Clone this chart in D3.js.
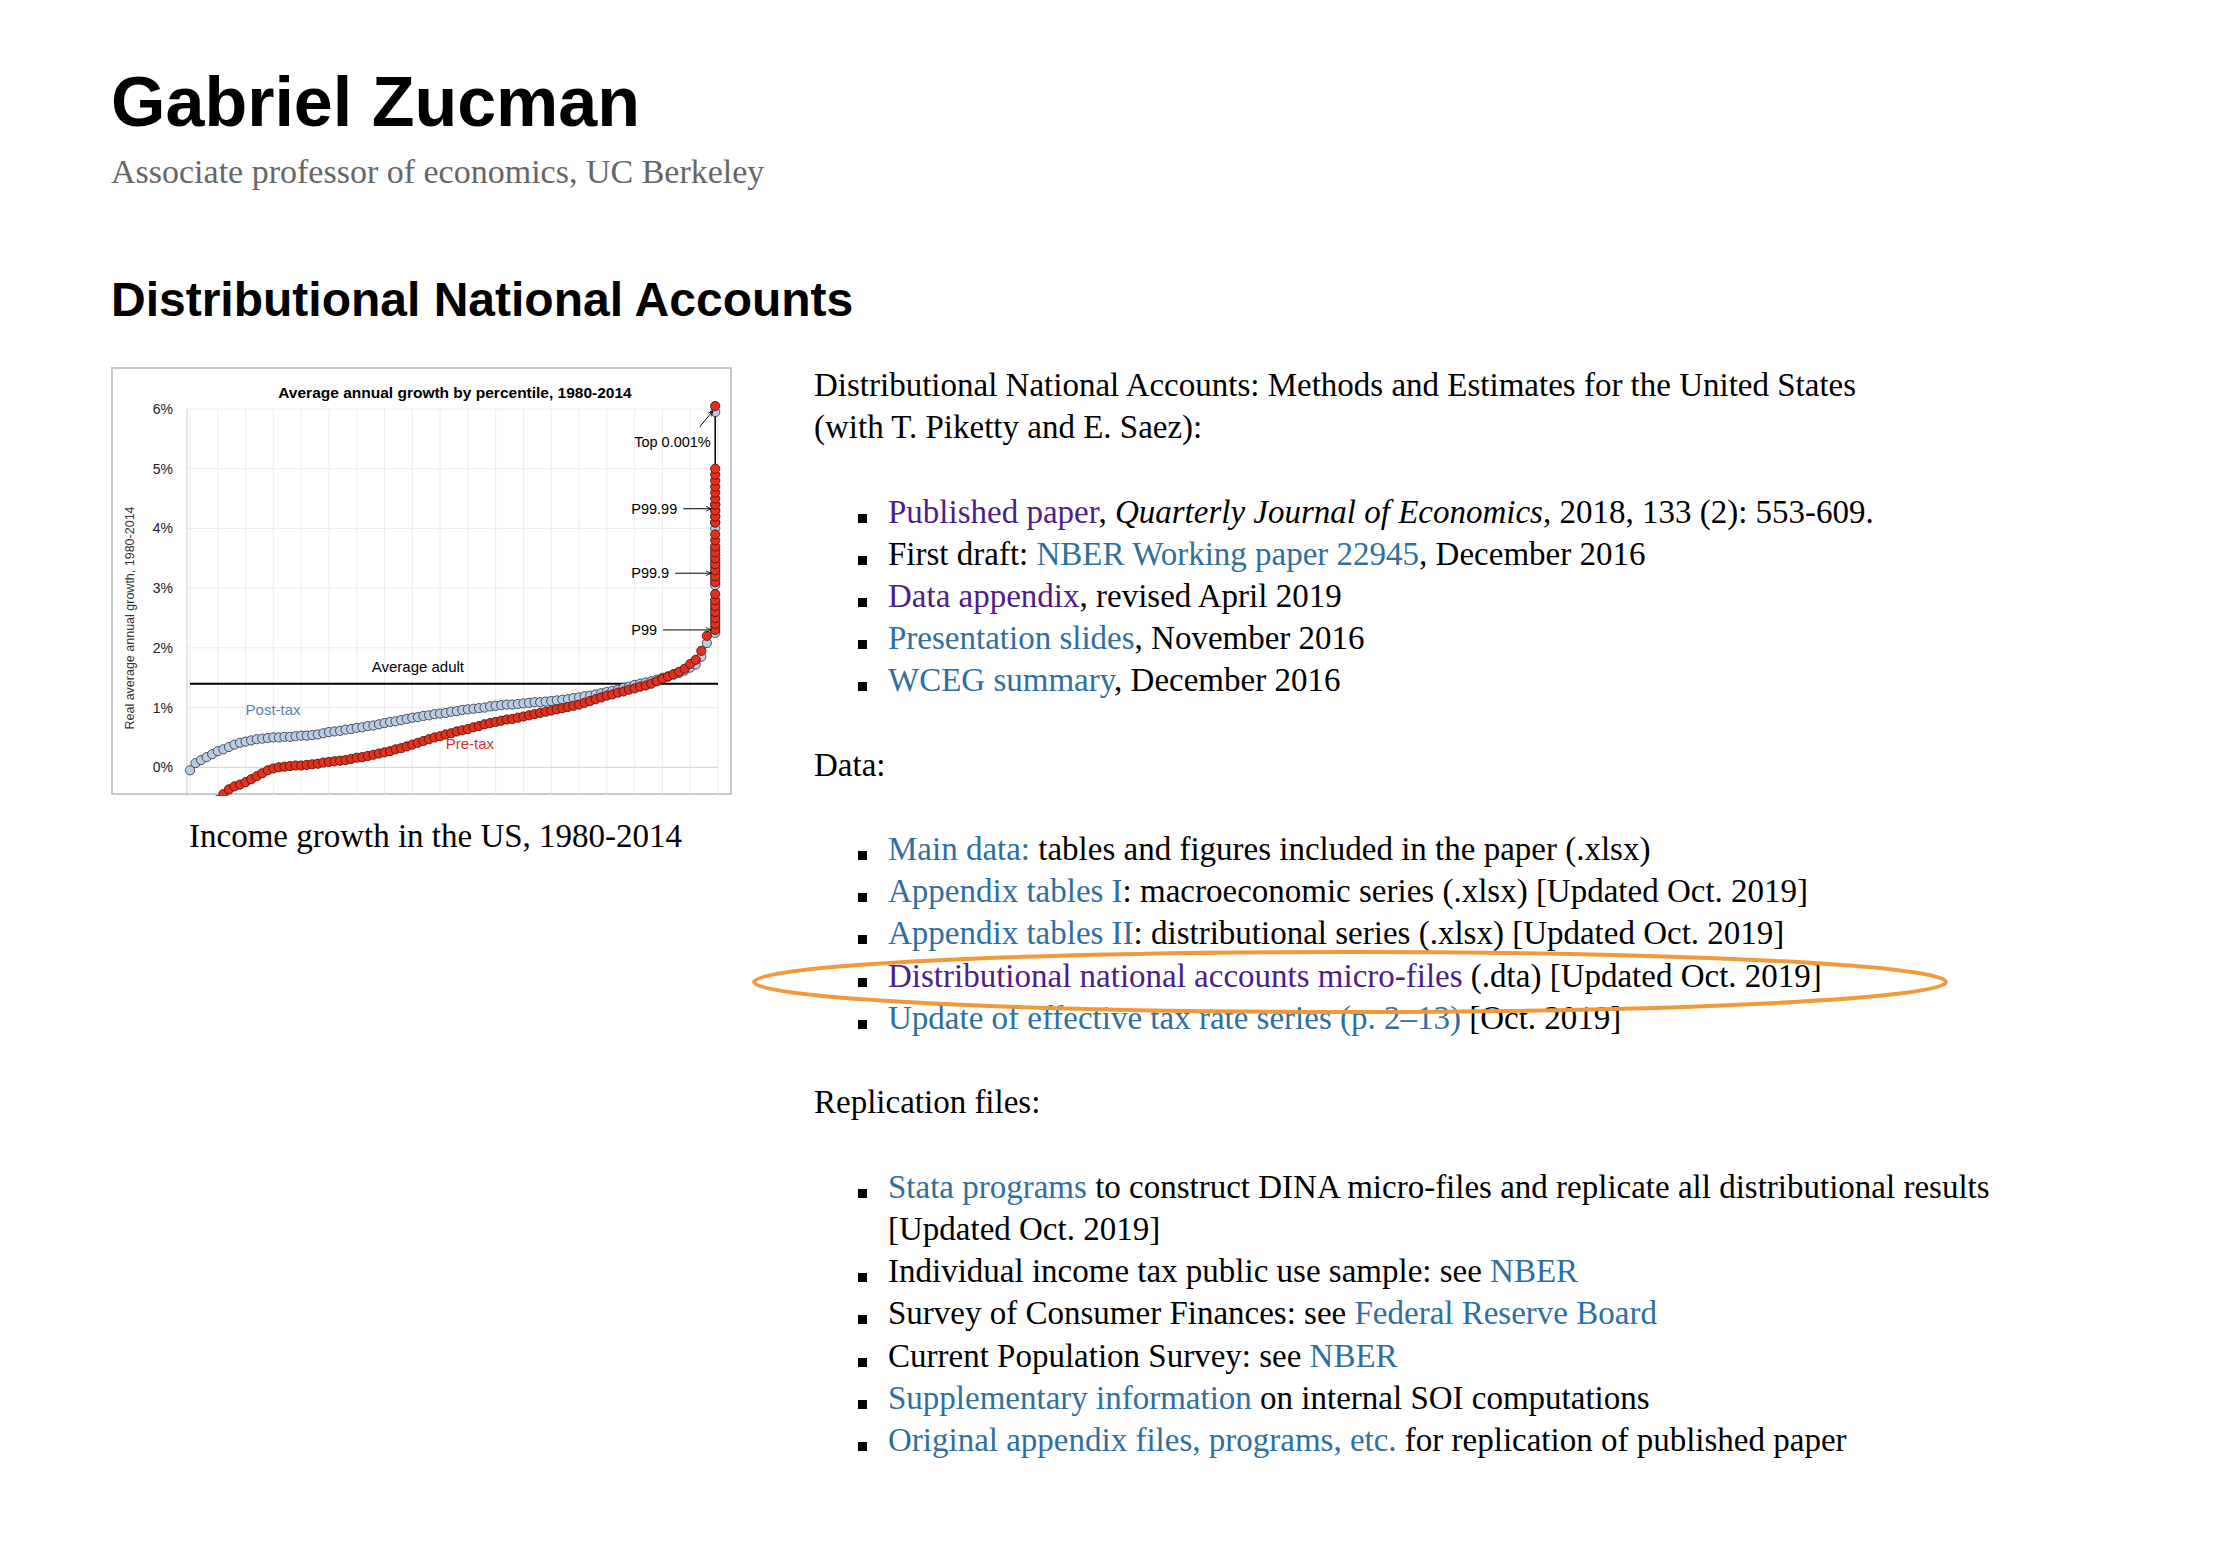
<!DOCTYPE html>
<html><head><meta charset="utf-8">
<script src="https://cdnjs.cloudflare.com/ajax/libs/d3/7.8.5/d3.min.js"></script>
<style>
body{margin:0;background:#fff;width:2230px;height:1548px;position:relative;overflow:hidden;font-family:Georgia,"Liberation Serif",serif;}
.abs{position:absolute;white-space:nowrap;}
h1{position:absolute;left:111px;top:62px;margin:0;font:bold 70px "Liberation Sans",Arial,sans-serif;}
h2{position:absolute;left:111px;top:272px;margin:0;font:bold 48px "Liberation Sans",Arial,sans-serif;}
.sub{left:111px;top:153px;font-size:34px;color:#666;}
.line{font-size:33px;color:#000;}
a.b{color:#2f6f9f;text-decoration:none;}
a.p{color:#4f1c8c;text-decoration:none;}
.bul{position:absolute;width:9px;height:9px;background:#000;}
</style></head>
<body>
<h1>Gabriel Zucman</h1>
<div class="abs sub">Associate professor of economics, UC Berkeley</div>
<h2>Distributional National Accounts</h2>
<div class="abs line" style="left:189px;top:818px;">Income growth in the US, 1980-2014</div>
<svg id="chart" class="abs" style="left:111px;top:367px" width="622" height="429"></svg>
<div id="text"></div>
<svg class="abs" style="left:0;top:0;pointer-events:none" width="2230" height="1548">
<ellipse cx="1350" cy="982" rx="596" ry="30" fill="none" stroke="#f29a3a" stroke-width="4"/>
</svg>
<script>
// percentile axis
var pcts = [5,6,7,8,9,10,11,12,13,14,15,16,17,18,19,20,21,22,23,24,25,26,27,28,29,30,31,32,33,34,35,36,37,38,39,40,41,42,43,44,45,46,47,48,49,50,51,52,53,54,55,56,57,58,59,60,61,62,63,64,65,66,67,68,69,70,71,72,73,74,75,76,77,78,79,80,81,82,83,84,85,86,87,88,89,90,91,92,93,94,95,96,97,98];
var postTax = [-0.05,0.07,0.12,0.17,0.22,0.27,0.30,0.34,0.38,0.41,0.43,0.45,0.47,0.48,0.49,0.50,0.50,0.51,0.51,0.52,0.53,0.53,0.54,0.55,0.57,0.59,0.60,0.61,0.63,0.64,0.66,0.67,0.69,0.70,0.72,0.74,0.76,0.77,0.79,0.81,0.83,0.84,0.86,0.87,0.89,0.90,0.91,0.93,0.94,0.96,0.97,0.98,0.99,1.00,1.02,1.03,1.04,1.05,1.05,1.06,1.07,1.08,1.09,1.09,1.10,1.11,1.12,1.13,1.14,1.16,1.17,1.19,1.20,1.22,1.24,1.26,1.28,1.30,1.33,1.35,1.38,1.40,1.42,1.44,1.47,1.50,1.52,1.55,1.58,1.62,1.67,1.72,1.85,2.08];
var preTax = [null,null,null,null,null,-0.55,-0.45,-0.37,-0.32,-0.29,-0.25,-0.20,-0.15,-0.10,-0.05,-0.02,0.00,0.01,0.02,0.03,0.03,0.04,0.05,0.06,0.08,0.09,0.10,0.11,0.12,0.14,0.16,0.17,0.19,0.21,0.23,0.25,0.27,0.30,0.32,0.35,0.38,0.41,0.44,0.47,0.50,0.52,0.55,0.57,0.60,0.62,0.64,0.67,0.69,0.72,0.74,0.76,0.78,0.80,0.81,0.83,0.85,0.87,0.89,0.91,0.93,0.95,0.97,0.99,1.01,1.03,1.05,1.08,1.11,1.14,1.17,1.20,1.22,1.25,1.27,1.30,1.32,1.35,1.37,1.40,1.44,1.48,1.52,1.56,1.60,1.65,1.73,1.80,1.95,2.20];
// top percentile broken into finer groups (plotted at 99.5)
var topPre = [2.3,2.4,2.5,2.6,2.7,2.8,2.9,3.1,3.2,3.3,3.4,3.5,3.6,3.7,3.8,3.9,4.1,4.2,4.3,4.4,4.5,4.6,4.7,4.8,4.9,5.0,6.05];
var topPost = [2.25,2.35,2.45,2.55,2.65,2.75,3.05,3.15,3.25,3.35,3.45,3.55,3.65,4.0,4.1,4.2,4.3,4.4,5.95];
var avgAdult = 1.4;
var xTicks = [5,10,15,20,25,30,35,40,45,50,55,60,65,70,75,80,85,90,95,100];
var yTicks = [-1,0,1,2,3,4,5,6];
var notes = [{t:"Top 0.001%",y:5.45},{t:"P99.99",y:4.33},{t:"P99.9",y:3.25},{t:"P99",y:2.3}];

var svg = d3.select("#chart");
svg.append("rect").attr("x",1).attr("y",1).attr("width",619).attr("height",426).attr("fill","#fff").attr("stroke","#c8c8c8").attr("stroke-width",2);
var x = d3.scaleLinear().domain([5,100]).range([79,607]);
var y = d3.scaleLinear().domain([-1,6]).range([460,42]);
var g = svg.append("g");
g.selectAll(".vg").data(xTicks).join("line").attr("x1",x).attr("x2",x).attr("y1",y(6)).attr("y2",y(-1)).attr("stroke","#ececec");
g.selectAll(".hg").data(yTicks).join("line").attr("x1",x(5)-3).attr("x2",x(100)).attr("y1",y).attr("y2",y).attr("stroke",function(d){return d==0?"#cfcfcf":"#ececec";});
g.append("line").attr("x1",x(5)-3).attr("x2",x(5)-3).attr("y1",y(6)).attr("y2",y(-1)).attr("stroke","#ccc");
var sans = "'Liberation Sans',Arial,sans-serif";
g.selectAll(".yl").data(yTicks).join("text").attr("x",62).attr("y",function(d){return y(d)+5;}).attr("text-anchor","end")
  .attr("font-family",sans).attr("font-size",14).attr("fill","#222").text(function(d){return d+"%";});
g.selectAll(".xl").data(xTicks).join("text").attr("transform",function(d){return "translate("+(x(d)+5)+","+(y(-1)+10)+") rotate(90)";})
  .attr("font-family",sans).attr("font-size",14).attr("fill","#222").text(function(d){return d;});
svg.append("text").attr("x",344).attr("y",31).attr("text-anchor","middle").attr("font-family",sans).attr("font-weight","bold").attr("font-size",15.5).text("Average annual growth by percentile, 1980-2014");
svg.append("text").attr("transform","translate(23,251) rotate(-90)").attr("text-anchor","middle").attr("font-family",sans).attr("font-size",12.5).attr("fill","#333").text("Real average annual growth, 1980-2014");
svg.append("text").attr("x",343).attr("y",506).attr("text-anchor","middle").attr("font-family",sans).attr("font-size",13).attr("fill","#222").text("Income percentile");
// average line
g.append("line").attr("x1",x(5)).attr("x2",x(100)).attr("y1",y(avgAdult)).attr("y2",y(avgAdult)).attr("stroke","#000").attr("stroke-width",2);
g.append("text").attr("x",x(46)).attr("y",y(1.6)).attr("text-anchor","middle").attr("font-family",sans).attr("font-size",15).text("Average adult");
g.append("line").attr("x1",x(99.5)).attr("x2",x(99.5)).attr("y1",y(5)).attr("y2",y(6.05)).attr("stroke","#000").attr("stroke-width",1.5);
var postPts = pcts.map(function(p,i){return [p,postTax[i]];}).concat(topPost.map(function(v){return [99.5,v];}));
var prePts = pcts.map(function(p,i){return [p,preTax[i]];}).filter(function(d){return d[1]!==null;}).concat(topPre.map(function(v){return [99.5,v];}));
g.selectAll(".post").data(postPts).join("circle").attr("cx",function(d){return x(d[0]);}).attr("cy",function(d){return y(d[1]);}).attr("r",4.6)
  .attr("fill","#b9cde6").attr("stroke","#3a3a4a").attr("stroke-width",0.9);
g.selectAll(".pre").data(prePts).join("circle").attr("cx",function(d){return x(d[0]);}).attr("cy",function(d){return y(d[1]);}).attr("r",4.6)
  .attr("fill","#e0321e").attr("stroke","#5a1008").attr("stroke-width",0.9);
g.append("text").attr("x",x(15)).attr("y",y(0.88)).attr("font-family",sans).attr("font-size",15).attr("fill","#5b7fb0").text("Post-tax");
g.append("text").attr("x",x(51)).attr("y",y(0.3)).attr("font-family",sans).attr("font-size",15).attr("fill","#e0321e").text("Pre-tax");
// annotations
svg.append("defs").append("marker").attr("id","ar").attr("viewBox","0 0 10 10").attr("refX",9).attr("refY",5).attr("markerWidth",6).attr("markerHeight",6).attr("orient","auto")
  .append("path").attr("d","M0,1 L9,5 L0,9").attr("fill","none").attr("stroke","#000").attr("stroke-width",1.3);
notes.forEach(function(n,i){
  if(i==0){
    g.append("text").attr("x",x(98.7)).attr("y",y(n.y)+5).attr("text-anchor","end").attr("font-family",sans).attr("font-size",14.5).text(n.t);
    g.append("line").attr("x1",x(96.7)).attr("y1",y(5.7)).attr("x2",x(99.1)).attr("y2",y(5.97)).attr("stroke","#000").attr("marker-end","url(#ar)");
  } else {
    var t = g.append("text").attr("x",x(84.4)).attr("y",y(n.y)+5).attr("font-family",sans).attr("font-size",14.5).text(n.t);
    var w = t.node().getComputedTextLength();
    g.append("line").attr("x1",x(84.4)+w+6).attr("y1",y(n.y)).attr("x2",x(98.8)).attr("y2",y(n.y)).attr("stroke","#000").attr("marker-end","url(#ar)");
  }
});

// right-hand text column
var lines = [
 {y:387,x:814,h:'Distributional National Accounts: Methods and Estimates for the United States'},
 {y:429,x:814,h:'(with T. Piketty and E. Saez):'},
 {y:514,b:1,h:'<a class="p">Published paper</a>, <i>Quarterly Journal of Economics</i>, 2018, 133 (2): 553-609.'},
 {y:556,b:1,h:'First draft: <a class="b">NBER Working paper 22945</a>, December 2016'},
 {y:598,b:1,h:'<a class="p">Data appendix</a>, revised April 2019'},
 {y:640,b:1,h:'<a class="b">Presentation slides</a>, November 2016'},
 {y:682,b:1,h:'<a class="b">WCEG summary</a>, December 2016'},
 {y:767,x:814,h:'Data:'},
 {y:851,b:1,h:'<a class="b">Main data:</a> tables and figures included in the paper (.xlsx)'},
 {y:893,b:1,h:'<a class="b">Appendix tables I</a>: macroeconomic series (.xlsx) [Updated Oct. 2019]'},
 {y:935,b:1,h:'<a class="b">Appendix tables II</a>: distributional series (.xlsx) [Updated Oct. 2019]'},
 {y:978,b:1,h:'<a class="p">Distributional national accounts micro-files</a> (.dta) [Updated Oct. 2019]'},
 {y:1020,b:1,h:'<a class="b">Update of effective tax rate series (p. 2–13)</a> [Oct. 2019]'},
 {y:1104,x:814,h:'Replication files:'},
 {y:1189,b:1,h:'<a class="b">Stata programs</a> to construct DINA micro-files and replicate all distributional results'},
 {y:1231,x:888,h:'[Updated Oct. 2019]'},
 {y:1273,b:1,h:'Individual income tax public use sample: see <a class="b">NBER</a>'},
 {y:1315,b:1,h:'Survey of Consumer Finances: see <a class="b">Federal Reserve Board</a>'},
 {y:1358,b:1,h:'Current Population Survey: see <a class="b">NBER</a>'},
 {y:1400,b:1,h:'<a class="b">Supplementary information</a> on internal SOI computations'},
 {y:1442,b:1,h:'<a class="b">Original appendix files, programs, etc.</a> for replication of published paper'}
];
var tx = d3.select("#text");
lines.forEach(function(l){
  tx.append("div").attr("class","abs line").style("left",(l.b?888:l.x)+"px").style("top",(l.y-20)+"px").html(l.h);
  if(l.b) tx.append("div").attr("class","bul").style("left","858px").style("top",(l.y)+"px");
});
</script>
</body></html>
